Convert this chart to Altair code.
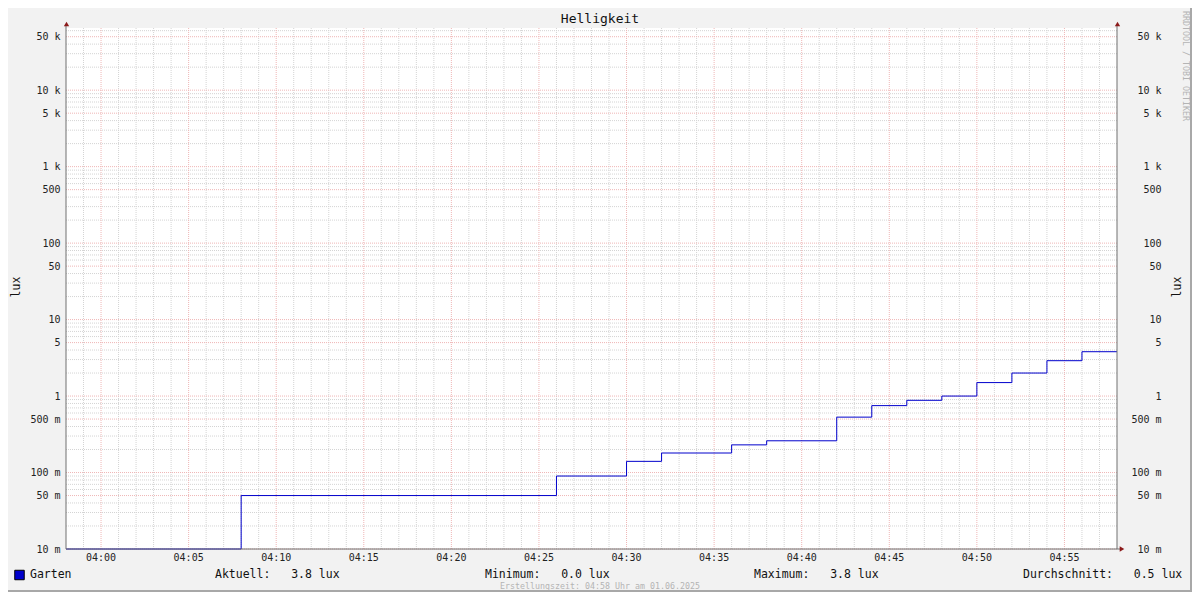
import altair as alt
import pandas as pd

FONT = "DejaVu Sans Mono"

# ---- data ----
times = ["03:58", "04:08", "04:26", "04:30", "04:32", "04:36", "04:38", "04:42",
         "04:44", "04:46", "04:48", "04:50", "04:52", "04:54", "04:56", "04:58"]
lux = [0.0, 0.05, 0.09, 0.14, 0.18, 0.23, 0.26, 0.53,
       0.75, 0.88, 1.0, 1.5, 2.0, 2.9, 3.8, 3.8]

y_tick_values = [0.01, 0.05, 0.1, 0.5, 1, 5, 10, 50, 100, 500, 1000, 5000, 10000, 50000]
y_tick_labels = ["10 m", "50 m", "100 m", "500 m",
                 "1\u00a0\u00a0", "5\u00a0\u00a0", "10\u00a0\u00a0", "50\u00a0\u00a0",
                 "100\u00a0\u00a0", "500\u00a0\u00a0",
                 "1 k", "5 k", "10 k", "50 k"]
x_tick_times = ["04:00", "04:05", "04:10", "04:15", "04:20", "04:25",
                "04:30", "04:35", "04:40", "04:45", "04:50", "04:55"]

series_name = "Garten"
stat_names = ["Aktuell", "Minimum", "Maximum", "Durchschnitt"]
stat_values = [3.8, 0.0, 3.8, 0.5]
unit = "lux"
title_text = "Helligkeit"
footer_text = "Erstellungszeit: 04:58 Uhr am 01.06.2025"
watermark_text = "RRDTOOL / TOBI OETIKER"


def ts(hm):
    return f"2025-06-01T{hm}:00"


def dt(hm):
    h, m = hm.split(":")
    return alt.DateTime(year=2025, month=6, date=1, hours=int(h), minutes=int(m))


line_df = pd.DataFrame({"t": [ts(t) for t in times], "lux": lux})

# grid positions
minute_times = [f"{(238 + i) // 60:02d}:{(238 + i) % 60:02d}" for i in range(1, 60)]
vmajor_df = pd.DataFrame({"t": [ts(t) for t in x_tick_times], "lbl": x_tick_times})
vminor_df = pd.DataFrame({"t": [ts(t) for t in minute_times if t not in x_tick_times]})
minor_vals = []
for e in range(-2, 5):
    for m in [2, 3, 4, 6, 7, 8, 9]:
        v = m * 10.0 ** e
        if v <= 65000:
            minor_vals.append(v)
hminor_df = pd.DataFrame({"v": minor_vals})
hmajor_df = pd.DataFrame({"v": y_tick_values})

W, H = 1051, 521
xscale = alt.Scale(domain=[dt("03:58"), dt("04:58")], nice=False)
yscale = alt.Scale(type="log", domain=[0.01, 65000], nice=False)

label_expr = ("[" + ",".join("'" + s + "'" for s in y_tick_labels) + "][indexof(["
              + ",".join(repr(v) for v in y_tick_values) + "], datum.value)]")

common_axis = dict(grid=False, domain=False, ticks=False, title=None,
                   labelFont=FONT, labelFontSize=10, labelColor="#222222",
                   labelFlush=False, labelOverlap=False)

left_axis = alt.Axis(orient="left", values=y_tick_values, labelExpr=label_expr,
                     labelAlign="right", labelBaseline="middle", labelPadding=6, **common_axis)
right_axis = alt.Axis(orient="right", values=y_tick_values, labelExpr=label_expr,
                      labelAlign="right", labelBaseline="middle", labelPadding=44, **common_axis)

GRID_MINOR = "#d4d4d4"
GRID_MAJOR = "#efb6b6"

vminor = alt.Chart(vminor_df).mark_rule(color=GRID_MINOR, strokeDash=[1, 1], strokeWidth=1).encode(
    x=alt.X("t:T", scale=xscale, axis=None))
hminor = alt.Chart(hminor_df).mark_rule(color=GRID_MINOR, strokeDash=[1, 1], strokeWidth=1).encode(
    y=alt.Y("v:Q", scale=yscale, axis=left_axis))
vmajor = alt.Chart(vmajor_df).mark_rule(color=GRID_MAJOR, strokeDash=[1, 1], strokeWidth=1).encode(
    x=alt.X("t:T", scale=xscale, axis=None))
hmajor = alt.Chart(hmajor_df).mark_rule(color=GRID_MAJOR, strokeDash=[1, 1], strokeWidth=1).encode(
    y=alt.Y("v:Q", scale=yscale, axis=right_axis))

# x tick labels drawn through the x scale
xlabels = alt.Chart(vmajor_df).mark_text(font=FONT, fontSize=10, color="#222222",
                                          align="center", baseline="middle").encode(
    x=alt.X("t:T", scale=xscale, axis=None), y=alt.value(H + 9), text="lbl:N")

line = alt.Chart(line_df).transform_calculate(
    vplot="max(datum.lux, 0.01)"
).mark_line(interpolate="step-after", color="#0000cc", strokeWidth=1).encode(
    x=alt.X("t:T", scale=xscale, axis=None),
    y=alt.Y("vplot:Q", scale=yscale, axis=None))

one = pd.DataFrame({"a": [0]})
AXIS_COLOR = "#707070"
left_line = alt.Chart(one).mark_rule(color=AXIS_COLOR, strokeWidth=1).encode(
    x=alt.value(0), y=alt.value(-4), y2=alt.value(H))
right_line = alt.Chart(one).mark_rule(color=AXIS_COLOR, strokeWidth=1).encode(
    x=alt.value(W), y=alt.value(-4), y2=alt.value(H))
bottom_line = alt.Chart(one).mark_rule(color=AXIS_COLOR, strokeWidth=1).encode(
    x=alt.value(0), x2=alt.value(W + 3), y=alt.value(H))

ARROW = "#8b1a1a"
arrow_l = alt.Chart(one).mark_point(shape="triangle-up", filled=True, color=ARROW, size=28, opacity=1).encode(
    x=alt.value(0.5), y=alt.value(-4))
arrow_r = alt.Chart(one).mark_point(shape="triangle-up", filled=True, color=ARROW, size=28, opacity=1).encode(
    x=alt.value(W + 0.5), y=alt.value(-4))
arrow_b = alt.Chart(one).mark_point(shape="triangle-right", filled=True, color=ARROW, size=28, opacity=1).encode(
    x=alt.value(W + 5), y=alt.value(H))


def txt(text, x, y, size=11.5, color="#111111", align="left", angle=0, baseline="middle"):
    return alt.Chart(one).mark_text(font=FONT, fontSize=size, color=color, align=align,
                                    baseline=baseline, angle=angle).encode(
        x=alt.value(x), y=alt.value(y), text=alt.value(text))


title = txt(title_text, 534, -9, size=13, align="center")
ylab_l = txt(unit, -49, 259, size=11.5, align="center", angle=270)
ylab_r = txt(unit, 1112, 259, size=11.5, align="center", angle=270)
watermark = txt(watermark_text, 1119, 38, size=8.3, color="#b4b4b4", align="center", angle=90)
footer = txt(footer_text, 534, 559, size=8.3, color="#b4b4b4", align="center")

legend_box = alt.Chart(one).mark_square(size=90, color="#0000cc", stroke="#000000",
                                        strokeWidth=1, opacity=1).encode(
    x=alt.value(-46.5), y=alt.value(547))
legend_name = txt(series_name, -36, 547)

stat_x = [149, 419, 688, 957]
NB = "\u00a0"
stat_layers = [txt(f"{n}:{NB * 3}{v:.1f} {unit}", x, 547)
               for n, v, x in zip(stat_names, stat_values, stat_x)]

border_r = alt.Chart(one).mark_rule(color="#a8a8a8", strokeWidth=2).encode(
    x=alt.value(1125), y=alt.value(-20), y2=alt.value(564))
border_b = alt.Chart(one).mark_rule(color="#a8a8a8", strokeWidth=2).encode(
    x=alt.value(-58), x2=alt.value(1126), y=alt.value(563))

chart = alt.layer(
    vminor, hminor, vmajor, hmajor, line, xlabels,
    left_line, right_line, bottom_line, arrow_l, arrow_r, arrow_b,
    title, ylab_l, ylab_r, watermark, footer, legend_box, legend_name, *stat_layers,
    border_r, border_b,
).resolve_axis(y="independent").properties(
    width=W, height=H,
    padding={"left": 58, "top": 20, "right": 75, "bottom": 43},
    autosize=alt.AutoSizeParams(type="none"),
).configure(background="#f2f2f2").configure_view(fill="white", stroke=None)

chart.save("out.html", embed_options={"renderer": "svg", "actions": False})
